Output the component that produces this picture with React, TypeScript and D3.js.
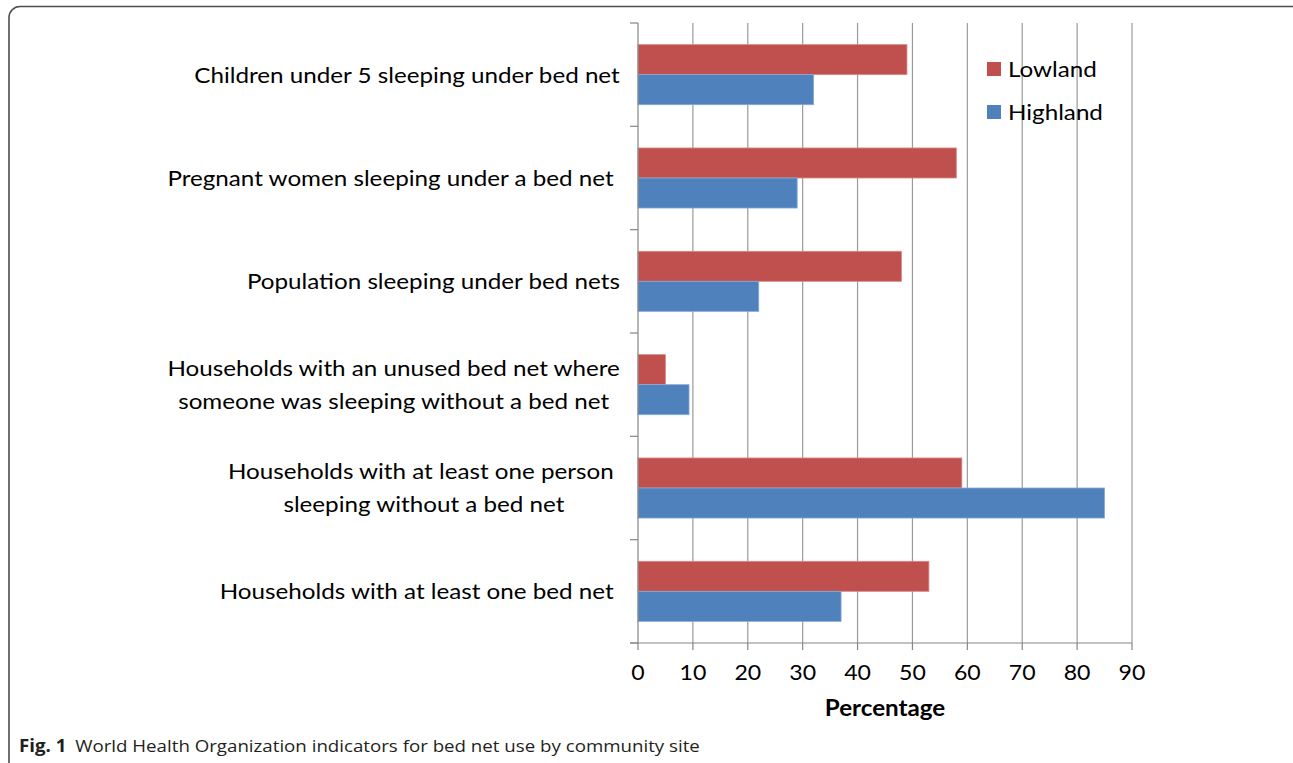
import React, { useEffect, useRef } from "react";
import * as d3 from "d3";

const categories = [
  "Children under 5 sleeping under bed net",
  "Pregnant women sleeping under a bed net ",
  "Population sleeping under bed nets",
  "Households with an unused bed net where\nsomeone was sleeping without a bed net",
  "Households with at least one person \nsleeping without a bed net",
  "Households with at least one bed net ",
];
const lowland = [49, 58, 48, 5, 59, 53];
const highland = [32, 29, 22, 9.3, 85, 37];
const seriesNames = ["Lowland", "Highland"];
const seriesColors = ["#C0504D", "#4F81BD"];
const xTicks = [0, 10, 20, 30, 40, 50, 60, 70, 80, 90];
const xTitle = "Percentage";
const captionBold = "Fig. 1";
const captionText = "World Health Organization indicators for bed net use by community site";

const W = 1293;
const H = 763;
const FONT = "Lato, 'Open Sans', sans-serif";
const SX = 1.1; // horizontal stretch of text seen in the reference

export default function App() {
  const ref = useRef<SVGSVGElement>(null);

  useEffect(() => {
    const svg = d3.select(ref.current);
    svg.selectAll("*").remove();

    const left = 638, right = 1132, top = 23, bottom = 643;
    const x = d3.scaleLinear().domain([0, 90]).range([left, right]);
    const y = d3.scaleBand<string>().domain(categories).range([top, bottom]).paddingInner(0).paddingOuter(0);
    const inner = d3.scaleBand<string>().domain(seriesNames).range([0, y.bandwidth()]).paddingInner(0).paddingOuter(0.72);

    const stretchedText = (px: number, py: number) =>
      svg.append("text").attr("transform", `translate(${px},${py}) scale(${SX},1)`).attr("x", 0).attr("y", 0);

    // frame
    svg.append("rect")
      .attr("x", 9).attr("y", 6.5).attr("width", 1300).attr("height", 780)
      .attr("rx", 11).attr("ry", 11)
      .attr("fill", "none").attr("stroke", "#4d4d4d").attr("stroke-width", 1.6);

    // gridlines
    svg.append("g").selectAll("line").data(xTicks.filter(t => t > 0)).join("line")
      .attr("x1", d => x(d)).attr("x2", d => x(d))
      .attr("y1", top).attr("y2", bottom)
      .attr("stroke", "#9a9a9a").attr("stroke-width", 1.2);

    // bars
    const data = categories.map((c, i) => ({ c, vals: [lowland[i], highland[i]] }));
    const g = svg.append("g");
    data.forEach(d => {
      d.vals.forEach((v, j) => {
        g.append("rect")
          .attr("x", x(0))
          .attr("y", (y(d.c) as number) + (inner(seriesNames[j]) as number))
          .attr("width", x(v) - x(0))
          .attr("height", inner.bandwidth())
          .attr("fill", seriesColors[j])
          .attr("stroke", j === 0 ? "#d88a88" : "#8aaad6")
          .attr("stroke-width", 0.8);
      });
    });

    // y axis
    const axisColor = "#868686";
    svg.append("line").attr("x1", left).attr("x2", left).attr("y1", top).attr("y2", bottom)
      .attr("stroke", axisColor).attr("stroke-width", 1.2);
    const yTickPos = categories.map(c => y(c) as number).concat([bottom]);
    svg.append("g").selectAll("line").data(yTickPos).join("line")
      .attr("x1", left - 8).attr("x2", left).attr("y1", d => d).attr("y2", d => d)
      .attr("stroke", axisColor).attr("stroke-width", 1.2);

    // x axis
    svg.append("line").attr("x1", left - 8).attr("x2", right).attr("y1", bottom).attr("y2", bottom)
      .attr("stroke", axisColor).attr("stroke-width", 1.2);
    svg.append("g").selectAll("line").data(xTicks).join("line")
      .attr("x1", d => x(d)).attr("x2", d => x(d)).attr("y1", bottom).attr("y2", bottom + 7)
      .attr("stroke", axisColor).attr("stroke-width", 1.2);
    xTicks.forEach(t => {
      stretchedText(x(t), bottom + 37)
        .attr("text-anchor", "middle")
        .attr("font-family", FONT).attr("font-size", 21).attr("fill", "#000")
        .text(String(t));
    });

    stretchedText((x(0) + x(90)) / 2, 716)
      .attr("text-anchor", "middle")
      .attr("font-family", FONT).attr("font-size", 22).attr("font-weight", "bold")
      .text(xTitle);

    // category labels
    const labelRight = 620;
    const lineH = 33;
    categories.forEach(c => {
      const lines = c.split("\n");
      const cy = (y(c) as number) + y.bandwidth() / 2;
      const grp = svg.append("g");
      const t = grp.append("text")
        .attr("font-family", FONT).attr("font-size", 22).attr("fill", "#000")
        .style("white-space", "pre")
        .attr("text-anchor", "middle");
      lines.forEach((ln, k) => {
        t.append("tspan").attr("x", 0)
          .attr("y", cy + (k - (lines.length - 1) / 2) * lineH + 8)
          .text(ln);
      });
      const bb = (t.node() as SVGTextElement).getBBox();
      grp.attr("transform", `translate(${labelRight - (bb.x + bb.width) * SX},0) scale(${SX},1)`);
    });

    // legend
    seriesNames.forEach((s, j) => {
      const ly = 69 + j * 43;
      svg.append("rect").attr("x", 987).attr("y", ly - 7).attr("width", 14).attr("height", 14)
        .attr("fill", seriesColors[j]);
      stretchedText(1008, ly + 8)
        .attr("font-family", FONT).attr("font-size", 22).attr("fill", "#000")
        .text(s);
    });

    // caption
    const cap = stretchedText(19, 752)
      .attr("font-family", "'Open Sans', 'Noto Sans', sans-serif").attr("font-size", 17).attr("fill", "#231f20");
    cap.append("tspan").attr("font-weight", "bold").text(captionBold);
    cap.append("tspan").attr("dx", 8).text(captionText);
  }, []);

  return (
    <svg ref={ref} width={W} height={H}
      style={{ position: "absolute", left: 0, top: 0, background: "#fff" }} />
  );
}
